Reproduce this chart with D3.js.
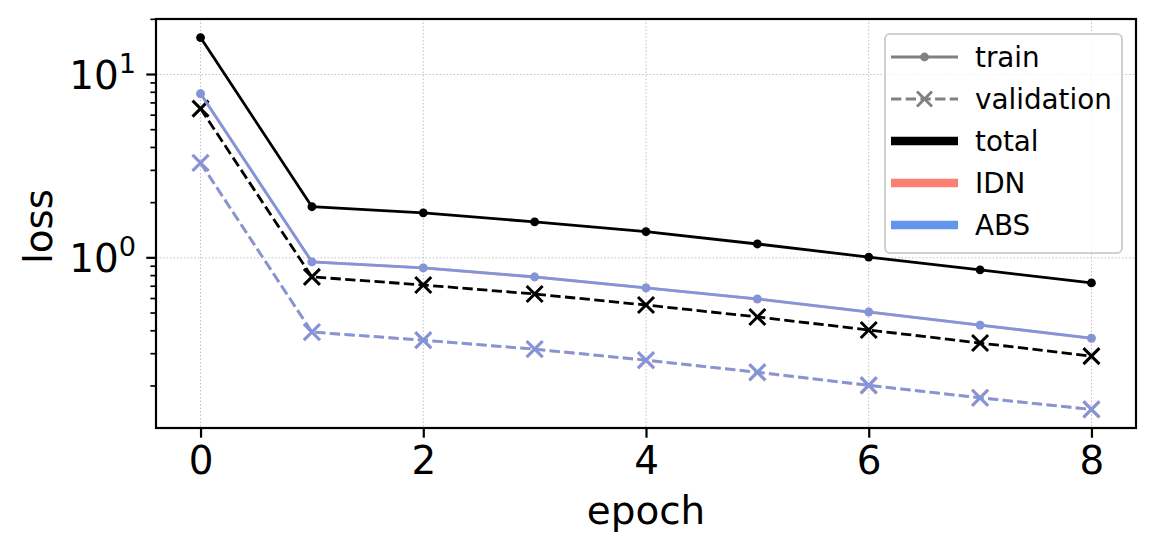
<!DOCTYPE html>
<html>
<head>
<meta charset="utf-8">
<script src="https://cdn.jsdelivr.net/npm/d3@7"></script>
<style>
  body { margin: 0; background: #fff; }
  text { font-family: "DejaVu Sans", sans-serif; fill: #000; }
</style>
</head>
<body>
<div id="container"></div>
<script>
// values
var epochs = [0, 1, 2, 3, 4, 5, 6, 7, 8];
var totalTrain = [15.9, 1.90, 1.76, 1.57, 1.39, 1.19, 1.01, 0.86, 0.73];
var totalVal   = [6.52, 0.787, 0.711, 0.635, 0.553, 0.476, 0.404, 0.343, 0.291];
var idnTrain   = [7.85, 0.950, 0.881, 0.786, 0.685, 0.596, 0.506, 0.430, 0.364];
var idnVal     = [3.29, 0.393, 0.355, 0.317, 0.276, 0.237, 0.201, 0.173, 0.149];
var absTrain   = [7.87, 0.951, 0.882, 0.787, 0.686, 0.597, 0.507, 0.430, 0.365];
var absVal     = [3.30, 0.394, 0.356, 0.318, 0.277, 0.238, 0.202, 0.172, 0.149];
var xTicks = [0, 2, 4, 6, 8];
var yMajor = [1, 10];

var colors = { total: "#000000", IDN: "#FA8072", ABS: "#6495ED" };

var width = 1155, height = 556;
var axL = 156, axR = 1136, axT = 19, axB = 428;

var svg = d3.select("#container").append("svg")
    .attr("width", width)
    .attr("height", height);

// domains padded like matplotlib (5%)
var xr = d3.extent(epochs), xpad = (xr[1] - xr[0]) * 0.05;
var x = d3.scaleLinear().domain([xr[0] - xpad, xr[1] + xpad]).range([axL, axR]);

var all = [].concat(totalTrain, totalVal, idnTrain, idnVal, absTrain, absVal);
var lr = d3.extent(all).map(Math.log10), lpad = (lr[1] - lr[0]) * 0.05;
var y = d3.scaleLog().domain([Math.pow(10, lr[0] - lpad), Math.pow(10, lr[1] + lpad)]).range([axB, axT]);

var g = svg.append("g");

// grid
g.selectAll(".gx").data(xTicks).enter().append("line")
    .attr("x1", d => x(d)).attr("x2", d => x(d))
    .attr("y1", axT).attr("y2", axB)
    .attr("stroke", "#b0b0b0").attr("stroke-width", 0.8).attr("stroke-dasharray", "1.5,2");
g.selectAll(".gy").data(yMajor).enter().append("line")
    .attr("x1", axL).attr("x2", axR)
    .attr("y1", d => y(d)).attr("y2", d => y(d))
    .attr("stroke", "#b0b0b0").attr("stroke-width", 0.8).attr("stroke-dasharray", "1.5,2");

var line = d3.line().x((d, i) => x(epochs[i])).y(d => y(d));

var series = [
  { vals: totalTrain, c: colors.total, dash: null, mk: "dot", op: 1 },
  { vals: totalVal, c: colors.total, dash: "10.3,4.4", mk: "x", op: 1 },
  { vals: idnTrain, c: colors.IDN, dash: null, mk: "dot", op: 0.8 },
  { vals: idnVal, c: colors.IDN, dash: "10.3,4.4", mk: "x", op: 0.8 },
  { vals: absTrain, c: colors.ABS, dash: null, mk: "dot", op: 0.8 },
  { vals: absVal, c: colors.ABS, dash: "10.3,4.4", mk: "x", op: 0.8 }
];

series.forEach(function(s) {
  var sg = g.append("g").attr("opacity", s.op);
  sg.append("path")
      .attr("d", line(s.vals))
      .attr("fill", "none")
      .attr("stroke", s.c)
      .attr("stroke-width", 2.8)
      .attr("stroke-dasharray", s.dash);
  if (s.mk === "dot") {
    sg.selectAll("circle").data(s.vals).enter().append("circle")
        .attr("cx", (d, i) => x(epochs[i])).attr("cy", d => y(d))
        .attr("r", 4.4).attr("fill", s.c);
  } else {
    sg.selectAll("path.mk").data(s.vals).enter().append("path")
        .attr("class", "mk")
        .attr("d", (d, i) => {
          var cx = x(epochs[i]), cy = y(d), r = 8;
          return "M" + (cx - r) + "," + (cy - r) + "L" + (cx + r) + "," + (cy + r) +
                 "M" + (cx - r) + "," + (cy + r) + "L" + (cx + r) + "," + (cy - r);
        })
        .attr("stroke", s.c).attr("stroke-width", 3);
  }
});

// axes frame
svg.append("rect")
    .attr("x", axL).attr("y", axT)
    .attr("width", axR - axL).attr("height", axB - axT)
    .attr("fill", "none").attr("stroke", "#000").attr("stroke-width", 2.2);

// x axis
var xAxis = svg.append("g").attr("transform", "translate(0," + axB + ")")
    .call(d3.axisBottom(x).tickValues(xTicks).tickSize(9.7).tickPadding(9));
xAxis.select(".domain").remove();
xAxis.selectAll(".tick line").attr("stroke-width", 2.2);
xAxis.selectAll(".tick text").attr("font-size", 38.9).attr("font-family", "DejaVu Sans");

// y axis, log ticks
var minor = [];
[0.1, 1, 10].forEach(function(b) {
  for (var k = 2; k <= 9; k++) {
    var v = b * k;
    if (v >= y.domain()[0] && v <= y.domain()[1]) minor.push(v);
  }
});
svg.selectAll(".ymin").data(minor).enter().append("line")
    .attr("x1", axL - 5.6).attr("x2", axL)
    .attr("y1", d => y(d)).attr("y2", d => y(d))
    .attr("stroke", "#000").attr("stroke-width", 1.7);
svg.selectAll(".ymaj").data(yMajor).enter().append("line")
    .attr("x1", axL - 9.7).attr("x2", axL)
    .attr("y1", d => y(d)).attr("y2", d => y(d))
    .attr("stroke", "#000").attr("stroke-width", 2.2);
var yl = svg.selectAll(".ylab").data(yMajor).enter().append("text")
    .attr("x", axL - 20).attr("y", d => y(d) + 14)
    .attr("text-anchor", "end")
    .attr("font-size", 38.9);
yl.append("tspan").text("10");
yl.append("tspan").attr("font-size", 27.2).attr("dy", -16).text(d => Math.round(Math.log10(d)));

// axis titles
svg.append("text").attr("x", (axL + axR) / 2).attr("y", 524)
    .attr("text-anchor", "middle").attr("font-size", 38.9).text("epoch");
svg.append("text").attr("transform", "translate(52," + ((axT + axB) / 2 + 3) + ") rotate(-90)")
    .attr("text-anchor", "middle").attr("font-size", 38.9).text("loss");

// legend
var legendItems = [
  { label: "train", c: "#808080", w: 2.8, dash: null, mk: "dot" },
  { label: "validation", c: "#808080", w: 2.8, dash: "10.3,4.4", mk: "x" },
  { label: "total", c: colors.total, w: 8.3 },
  { label: "IDN", c: colors.IDN, w: 8.3 },
  { label: "ABS", c: colors.ABS, w: 8.3 }
];
var lg = svg.append("g").attr("transform", "translate(885,34)");
lg.append("rect").attr("width", 237).attr("height", 219).attr("rx", 5)
    .attr("fill", "#fff").attr("fill-opacity", 0.8)
    .attr("stroke", "#d0d0d0").attr("stroke-width", 2);
var li = lg.selectAll(".li").data(legendItems).enter().append("g")
    .attr("transform", (d, i) => "translate(0," + (23 + i * 42) + ")");
li.append("line").attr("x1", 6).attr("x2", 73).attr("y1", 0).attr("y2", 0)
    .attr("stroke", d => d.c).attr("stroke-width", d => d.w)
    .attr("stroke-dasharray", d => d.dash);
li.filter(d => d.mk === "dot").append("circle")
    .attr("cx", 39.5).attr("cy", 0).attr("r", 4.4).attr("fill", d => d.c);
li.filter(d => d.mk === "x").append("path")
    .attr("d", "M32,-7.5L47,7.5M32,7.5L47,-7.5")
    .attr("stroke", d => d.c).attr("stroke-width", 2.8);
li.append("text").attr("x", 90).attr("y", 10)
    .attr("font-size", 27.8).text(d => d.label);
</script>
</body>
</html>
